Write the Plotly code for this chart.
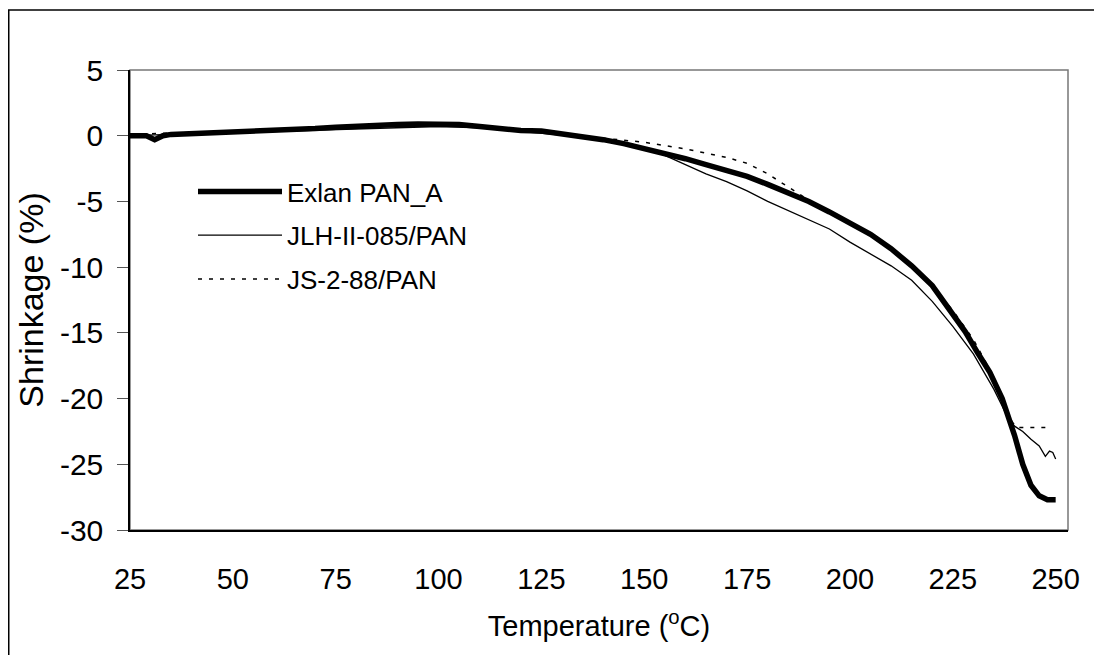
import plotly.graph_objects as go

# ---- data ----
exlan_T = [25, 27, 29, 31, 33, 35, 40, 45, 50, 55, 60, 65, 70, 75, 80, 85, 90, 95, 100, 105,
           110, 115, 120, 125, 130, 135, 140, 145, 150, 155, 160, 165, 170, 175, 180, 185, 190,
           195, 200, 205, 210, 215, 220, 225, 228, 231, 234, 237, 240, 242, 244, 246, 248, 250]
exlan_S = [0.0, 0.05, 0.0, -0.3, 0.0, 0.1, 0.15, 0.2, 0.25, 0.3, 0.35, 0.45, 0.55, 0.65, 0.75,
           0.8, 0.85, 0.9, 0.9, 0.85, 0.7, 0.5, 0.4, 0.35, 0.15, -0.05, -0.3, -0.6, -0.95, -1.35,
           -1.75, -2.2, -2.65, -3.1, -3.7, -4.3, -5.0, -5.8, -6.6, -7.5, -8.6, -9.9, -11.4, -13.5,
           -14.9, -16.5, -18.0, -20.0, -22.8, -25.0, -26.6, -27.4, -27.7, -27.7]

jlh_T = [25, 30, 40, 50, 60, 70, 80, 90, 100, 110, 120, 130, 140, 145, 150, 155, 160, 165, 170,
         175, 180, 185, 190, 195, 200, 205, 210, 215, 220, 225, 230, 235, 238, 240, 242, 244,
         246, 247.5, 248.5, 249.3, 250]
jlh_S = [0.0, 0.05, 0.1, 0.2, 0.3, 0.4, 0.55, 0.65, 0.7, 0.6, 0.35, 0.05, -0.35, -0.6, -1.0,
         -1.5, -2.2, -2.9, -3.5, -4.2, -5.0, -5.7, -6.4, -7.1, -8.1, -9.0, -9.9, -11.0, -12.6,
         -14.5, -16.6, -19.3, -21.2, -22.1, -22.5, -23.1, -23.6, -24.4, -24.0, -24.1, -24.6]

js_T = [25, 30, 40, 50, 60, 70, 80, 90, 100, 110, 120, 130, 140, 150, 160, 170, 175, 180, 185,
        190, 195, 200, 205, 210, 215, 220, 225, 230, 235, 238, 239.5, 240.5, 245, 249]
js_S = [0.1, 0.15, 0.2, 0.3, 0.4, 0.55, 0.7, 0.8, 0.8, 0.7, 0.45, 0.15, -0.2, -0.5, -1.0, -1.65,
        -2.1, -2.9, -3.9, -4.9, -5.8, -6.7, -7.6, -8.6, -9.9, -11.4, -13.3, -15.5, -18.4, -20.7,
        -21.8, -22.2, -22.2, -22.2]

series_names = ["Exlan PAN_A", "JLH-II-085/PAN", "JS-2-88/PAN"]
x_ticks = [25, 50, 75, 100, 125, 150, 175, 200, 225, 250]
y_ticks = [5, 0, -5, -10, -15, -20, -25, -30]
y_tick_labels = ["5", "0", "-5", "-10", "-15", "-20", "-25", "-30"]

FONT = "Liberation Sans, Arial, sans-serif"

fig = go.Figure()
fig.add_trace(go.Scatter(x=exlan_T, y=exlan_S, mode="lines", name=series_names[0],
                         legendgroup="a", line=dict(color="black", width=5.5)))
fig.add_trace(go.Scatter(x=jlh_T, y=jlh_S, mode="lines", name=series_names[1],
                         legendgroup="b", line=dict(color="black", width=1.3)))
fig.add_trace(go.Scatter(x=js_T, y=js_S, mode="lines", name=series_names[2],
                         legendgroup="c", line=dict(color="black", width=1.5, dash="4px,7px")))

# page body has an 8px margin, so figure coords = screen coords - 8
OFF = 8
W, H = 1094, 647
L, T = 130 - OFF, 70 - OFF
R = W - (1068 - OFF)
B = H - (530 - OFF)
pw, ph = W - L - R, H - T - B

fig.update_layout(
    width=W, height=H,
    margin=dict(l=L, r=R, t=T, b=B),
    paper_bgcolor="white", plot_bgcolor="white",
    font=dict(family=FONT, color="black", size=29),
    showlegend=True,
    legend=dict(x=(193 - OFF - L) / pw, y=1 - (168 - OFF - T) / ph, xanchor="left", yanchor="top",
                bgcolor="rgba(0,0,0,0)", font=dict(size=26, family=FONT),
                itemwidth=84, tracegroupgap=7),
    xaxis=dict(range=[25, 253], tickvals=x_ticks, ticks="outside", ticklen=22,
               tickcolor="rgba(0,0,0,0)", showgrid=False, zeroline=False,
               showline=True, linecolor="black", linewidth=1.5,
               tickfont=dict(size=29),
               title=dict(text="Temperature (<sup>o</sup>C)", font=dict(size=29), standoff=22)),
    yaxis=dict(range=[-30, 5], tickvals=y_ticks, ticktext=y_tick_labels, ticks="outside",
               ticklen=11, tickcolor="#555", tickwidth=1.2, showgrid=False, zeroline=False,
               showline=True, linecolor="black", linewidth=1.5,
               tickfont=dict(size=30), ticklabelstandoff=8,
               title=dict(text="Shrinkage (%)", font=dict(size=34), standoff=6)),
    shapes=[
        dict(type="rect", xref="paper", yref="paper", x0=0, x1=1, y0=0, y1=1,
             line=dict(color="#777", width=1.5), layer="below"),
        dict(type="line", xref="paper", yref="paper", x0=(8 - OFF - L) / pw, x1=(1120 - L) / pw,
             y0=1 + (T - (10 - OFF)) / ph, y1=1 + (T - (10 - OFF)) / ph,
             line=dict(color="black", width=1.5)),
        dict(type="line", xref="paper", yref="paper", x0=(8 - OFF + 0.75 - L) / pw,
             x1=(8 - OFF + 0.75 - L) / pw,
             y0=1 + (T - (10 - OFF)) / ph, y1=-(H + 10 - T - ph) / ph,
             line=dict(color="black", width=1.5)),
    ],
)

fig.write_html("out.html")
